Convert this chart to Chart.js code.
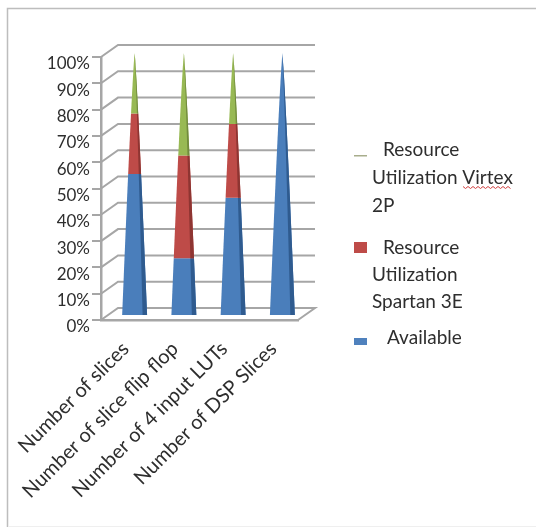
<!DOCTYPE html>
<html><head><meta charset="utf-8">
<script src="https://cdn.jsdelivr.net/npm/chart.js@4"></script>
<style>html,body{margin:0;padding:0;background:#fff}#w{position:relative;width:536px;height:527px;overflow:hidden}canvas{display:block;filter:blur(0.55px)}</style>
</head><body><div id="w"><canvas id="c" width="536" height="527"></canvas></div>
<script>
const categories=["Number of slices","Number of slice flip flop","Number of 4 input LUTs","Number of DSP Slices"];
const available=[54,22,45,100];
const spartan=[23,39,28,0];
const virtex=[23,39,27,0];
const yTicks=[0,10,20,30,40,50,60,70,80,90,100];
const FONT='Lato, sans-serif';
const TXT='#2e2e2e';
const GRID='#a6a6a6';
const DX=17,DY=-12;
const legendRows=[
 {swatch:[354,155,13,1.5],color:'#a8ad8c',lines:[["Resource",383,150],["Utilization Virtex",372,178],["2P",372,206]]},
 {swatch:[354,242,13,11],color:'#be4b48',lines:[["Resource",383,248],["Utilization",372,275],["Spartan 3E",372,302]]},
 {swatch:[354,338,13,7],color:'#4f81bd',lines:[["Available",387,338]]}
];
const wall={id:'wall',beforeDatasetsDraw(ch){
 const {ctx,scales:{x,y}}=ch,L=x.left,R=x.right;
 ctx.save();ctx.strokeStyle=GRID;ctx.lineWidth=2;
 yTicks.forEach(v=>{const p=y.getPixelForValue(v);
  ctx.beginPath();ctx.moveTo(L,p);ctx.lineTo(L+DX,p+DY);ctx.lineTo(R+DX,p+DY);
  if(v===0){ctx.lineTo(R,p);}
  ctx.stroke();});
 ctx.restore();
}};
const cones={id:'cones',afterDatasetsDraw(ch){
 const {ctx,scales:{y}}=ch;
 const y0=y.getPixelForValue(0)-4,y1=y.getPixelForValue(100)-4,H=y0-y1;
 const metas=ch.data.datasets.map((d,i)=>ch.getDatasetMeta(i));
 categories.forEach((c,j)=>{
  const cx=metas[0].data[j].x+9,hw=12.5,ridge=8;
  const at=(py)=>Math.pow((py-y1)/H,0.85);
  metas.forEach((m,i)=>{
   const ds=ch.data.datasets[i],el=m.data[j];
   if(!ds.data[j])return;
   const t=el.y-4,b=el.base-4;
   const pts=[];for(let k=0;k<=12;k++){const py=t+(b-t)*k/12;pts.push([py,at(py)]);}
   ctx.fillStyle=ds.backgroundColor2;
   ctx.beginPath();pts.forEach(p=>ctx.lineTo(cx+hw*p[1],p[0]));pts.slice().reverse().forEach(p=>ctx.lineTo(cx-hw*p[1],p[0]));ctx.closePath();ctx.fill();
   ctx.fillStyle=ds.sideColor;
   ctx.beginPath();pts.forEach(p=>ctx.lineTo(cx+hw*p[1],p[0]));pts.slice().reverse().forEach(p=>ctx.lineTo(cx+ridge*p[1],p[0]));ctx.closePath();ctx.fill();
  });
 });
}};
const legendP={id:'legendP',afterDraw(ch){
 const {ctx}=ch;ctx.save();
 ctx.font='19px '+FONT;ctx.textBaseline='middle';ctx.textAlign='left';
 legendRows.forEach(r=>{
  ctx.fillStyle=r.color;ctx.fillRect(...r.swatch);
  ctx.fillStyle=TXT;r.lines.forEach(l=>ctx.fillText(l[0],l[1],l[2]));
 });
 ctx.strokeStyle='#d04040';ctx.lineWidth=1;ctx.beginPath();
 for(let i=0,X=463;X<=512;i++,X+=2.5){const Yp=187+(i%2?1.5:-0.5);i?ctx.lineTo(X,Yp):ctx.moveTo(X,Yp);}
 ctx.stroke();
 ctx.strokeStyle='#bdbdbd';ctx.lineWidth=1.5;ctx.beginPath();ctx.moveTo(7.5,527);ctx.lineTo(7.5,8.5);ctx.lineTo(536,8.5);ctx.stroke();
 ctx.strokeStyle='#efefef';ctx.lineWidth=1;ctx.beginPath();ctx.moveTo(8,526.5);ctx.lineTo(536,526.5);ctx.stroke();
 ctx.restore();
}};
new Chart(document.getElementById('c'),{
 type:'bar',
 data:{labels:categories,datasets:[
  {label:'Available',data:available,backgroundColor:'rgba(0,0,0,0)',backgroundColor2:'#4a7ebb',sideColor:'#2f5b8f'},
  {label:'Resource Utilization Spartan 3E',data:spartan,backgroundColor:'rgba(0,0,0,0)',backgroundColor2:'#be4b48',sideColor:'#8e3532'},
  {label:'Resource Utilization Virtex 2P',data:virtex,backgroundColor:'rgba(0,0,0,0)',backgroundColor2:'#98b954',sideColor:'#728b3e'}
 ]},
 options:{responsive:false,animation:false,
  layout:{padding:{left:0,top:57,right:238,bottom:0}},
  plugins:{legend:{display:false},tooltip:{enabled:false},title:{display:false}},
  scales:{
   x:{stacked:true,
    afterFit(a){a.height=207;},
    grid:{display:false},border:{color:GRID,width:2.5},
    ticks:{minRotation:45,maxRotation:45,autoSkip:false,color:TXT,font:{family:FONT,size:20},padding:9}},
   y:{stacked:true,min:0,max:100,
    afterFit(a){a.width=101;},
    grid:{drawOnChartArea:false,drawTicks:true,tickLength:9,color:GRID,lineWidth:2},border:{color:GRID,width:2.5},
    ticks:{stepSize:10,color:TXT,font:{family:FONT,size:17},padding:2,labelOffset:7,callback:v=>v+'%'}}
  }
 },
 plugins:[wall,cones,legendP]
});
</script></body></html>
